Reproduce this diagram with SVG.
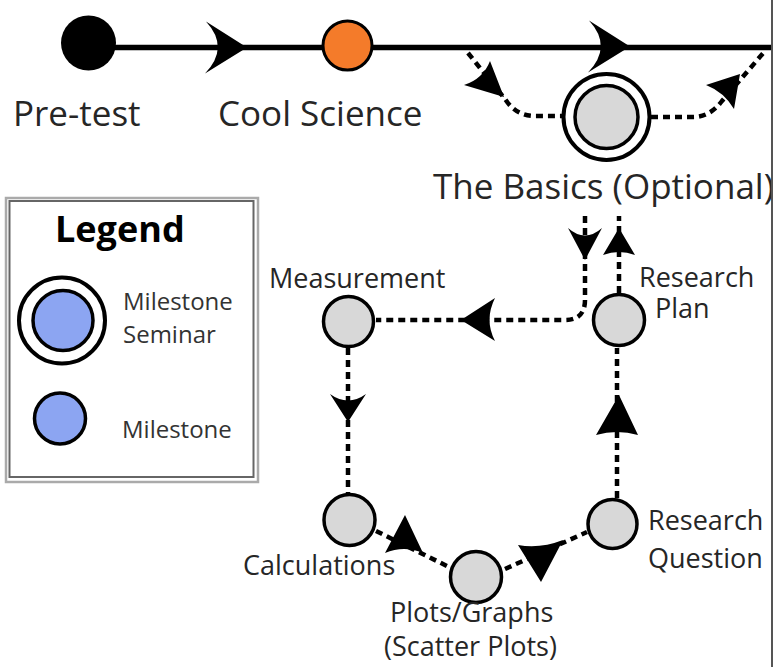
<svg xmlns="http://www.w3.org/2000/svg" xmlns:xlink="http://www.w3.org/1999/xlink" width="774" height="667" viewBox="0 0 774 667">
<style>
.lbl{font-family:"Open Sans","Noto Sans","Liberation Sans",sans-serif;fill:#262626}
.big{font-size:35px}
.nd{font-size:27px}
.lg{font-size:24px;fill:#333}
.node{fill:#d8d8d8;stroke:#000;stroke-width:3.5}
.blue{fill:#8ca5f2;stroke:#000;stroke-width:3.5}
.ring{fill:#fff;stroke:#000;stroke-width:4}
.dash{fill:none;stroke:#000;stroke-width:4.5;stroke-dasharray:7 5}
.ah{fill:#000}
</style>
<defs>
<path id="ahBig" d="M0,0 L-41,-26 Q-17,0 -42,26 Z"/>
<clipPath id="clipR"><rect x="0" y="0" width="771" height="667"/></clipPath>
</defs>
<rect x="0" y="0" width="774" height="667" fill="#fff"/>
<line x1="772" y1="0" x2="772" y2="667" stroke="#555" stroke-width="2"/>

<g id="connectors">
<line x1="88" y1="47.5" x2="771" y2="47.5" stroke="#000" stroke-width="5.5"/>
<use xlink:href="#ahBig" class="ah" transform="translate(247,47.5)"/>
<use xlink:href="#ahBig" class="ah" transform="translate(630,46.5)"/>
<path class="dash" d="M468,53 L505,99 Q516,116 535,116 H562"/>
<path class="ah" d="M504,97 L490,61 Q483,79 464,85 Z"/>
<path class="dash" d="M651,117 H693 Q710,117 722,101 L765,51"/>
<path class="ah" d="M740,74 L706,85 Q724,92 734,109 Z"/>
<path class="dash" d="M585,216 V300 Q585,320 565,320 H376"/>
<path class="ah" d="M585,260 L568,228 Q585,243 602,228 Z"/>
<path class="ah" d="M461,320 L495,298 Q484,320 495,341 Z"/>
<path class="dash" d="M619,293 V216"/>
<path class="ah" d="M619,228 L603,255 Q619,249 635,255 Z"/>
<path class="dash" d="M348,348 V494"/>
<path class="ah" d="M348,422 L330,394 Q348,407 366,394 Z"/>
<path class="dash" d="M376,531 L451,568"/>
<path class="ah" d="M405,515 L385,553 Q404,545 423,553 Z"/>
<path class="dash" d="M505,569 L587,532"/>
<path class="ah" d="M541,582 L518,545 Q540,549 563,540 Z"/>
<path class="dash" d="M617,498 V348"/>
<path class="ah" d="M619,395 L596,435 Q617,429 638,435 Z"/>
</g>

<g id="pretest">
<circle cx="88.5" cy="43" r="27.5" fill="#000"/>
<text class="lbl big" x="13" y="126">Pre-test</text>
</g>
<g id="coolscience">
<circle cx="347.5" cy="45.5" r="24.5" fill="#f47b2a" stroke="#000" stroke-width="3"/>
<text class="lbl big" x="218" y="126">Cool Science</text>
</g>
<g id="basics">
<circle cx="606.5" cy="117" r="43" class="ring"/>
<circle cx="606.5" cy="117" r="31.5" class="node" stroke-width="4"/>
<text class="lbl big" x="433" y="199" clip-path="url(#clipR)">The Basics (Optional)</text>
</g>
<g id="measurement">
<circle cx="348.5" cy="321.5" r="25" class="node"/>
<text class="lbl nd" x="269" y="288">Measurement</text>
</g>
<g id="researchplan">
<circle cx="619" cy="320" r="25.5" class="node"/>
<text class="lbl nd" x="639" y="287">Research</text>
<text class="lbl nd" x="655" y="318">Plan</text>
</g>
<g id="calculations">
<circle cx="349.5" cy="520" r="25.5" class="node"/>
<text class="lbl nd" x="243" y="575">Calculations</text>
</g>
<g id="plots">
<circle cx="476" cy="577" r="25.5" class="node"/>
<text class="lbl nd" x="390" y="622">Plots/Graphs</text>
<text class="lbl nd" x="384" y="656">(Scatter Plots)</text>
</g>
<g id="researchquestion">
<circle cx="612.5" cy="524" r="24.5" class="node"/>
<text class="lbl nd" x="648" y="530">Research</text>
<text class="lbl nd" x="648" y="568">Question</text>
</g>

<g id="legend">
<rect x="6" y="198" width="252" height="284" fill="#fff" stroke="#aaa" stroke-width="2.5"/>
<rect x="9.5" y="201" width="244" height="276" fill="none" stroke="#666" stroke-width="2"/>
<text x="55" y="242" style="font-family:'Open Sans','Noto Sans','Liberation Sans',sans-serif;font-size:36px;font-weight:bold;fill:#000">Legend</text>
<circle cx="62" cy="320.5" r="43" class="ring" stroke-width="3.5"/>
<circle cx="63" cy="320.5" r="30" class="blue"/>
<text class="lbl lg" x="123" y="310">Milestone</text>
<text class="lbl lg" x="123" y="343">Seminar</text>
<circle cx="60" cy="418.5" r="25.5" class="blue" stroke-width="3"/>
<text class="lbl lg" x="122" y="438">Milestone</text>
</g>
</svg>
